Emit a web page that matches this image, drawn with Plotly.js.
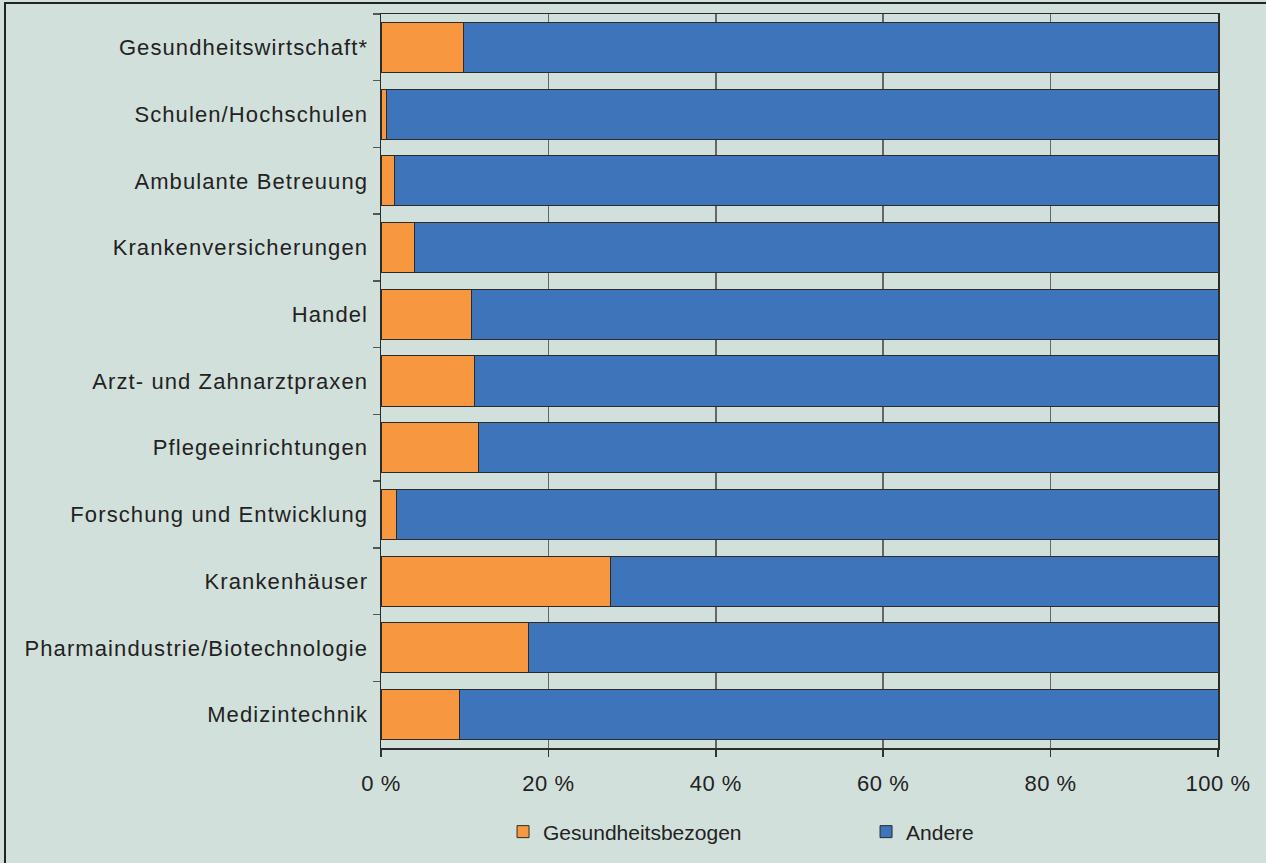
<!DOCTYPE html>
<html>
<head>
<meta charset="utf-8">
<script src="https://cdn.plot.ly/plotly-3.0.1.min.js"></script>
<style>
  html, body { margin: 0; padding: 0; background: #D2E0DB; }
  #wrap { position: relative; width: 1266px; height: 863px; overflow: hidden; }
  #chart { position: absolute; left: 0; top: 0; width: 1266px; height: 863px; }
  #frame { position: absolute; left: 4px; top: 2px; width: 1300px; height: 900px;
           border-left: 2px solid #222; border-top: 2px solid #222; pointer-events: none; }
  .ytick text { letter-spacing: 1.1px; }
  .xtick text { letter-spacing: 0.5px; }
</style>
</head>
<body>
<div id="wrap">
  <div id="chart"></div>
  <div id="frame"></div>
</div>
<script>
const categories = [
  "Gesundheitswirtschaft*",
  "Schulen/Hochschulen",
  "Ambulante Betreuung",
  "Krankenversicherungen",
  "Handel",
  "Arzt- und Zahnarztpraxen",
  "Pflegeeinrichtungen",
  "Forschung und Entwicklung",
  "Krankenhäuser",
  "Pharmaindustrie/Biotechnologie",
  "Medizintechnik"
];
const gesundheitsbezogen = [9.9, 0.7, 1.6, 4.0, 10.8, 11.2, 11.7, 1.8, 27.4, 17.6, 9.4];
const andere = [90.1, 99.3, 98.4, 96.0, 89.2, 88.8, 88.3, 98.2, 72.6, 82.4, 90.6];
const xTickValues = [0, 20, 40, 60, 80, 100];
const xTickLabels = ["0 %", "20 %", "40 %", "60 %", "80 %", "100 %"];

const axisFont = { family: "Liberation Sans, Arial, sans-serif", size: 22, color: "#222" };
const legendFont = { family: "Liberation Sans, Arial, sans-serif", size: 21, color: "#222" };

const traces = [
  {
    type: "bar", orientation: "h", name: "Gesundheitsbezogen",
    y: categories, x: gesundheitsbezogen,
    marker: { color: "#F7973F", line: { color: "#2b2b2b", width: 1 } },
    hoverinfo: "skip"
  },
  {
    type: "bar", orientation: "h", name: "Andere",
    y: categories, x: andere,
    marker: { color: "#3D74BA", line: { color: "#2b2b2b", width: 1 } },
    hoverinfo: "skip"
  }
];

const layout = {
  width: 1266, height: 863,
  margin: { l: 381, r: 48, t: 14, b: 114 },
  paper_bgcolor: "#D2E0DB",
  plot_bgcolor: "#D2E0DB",
  barmode: "stack",
  bargap: 0.25,
  font: axisFont,
  showlegend: true,
  legend: {
    orientation: "h", x: 0.1458, xanchor: "left", y: -0.085, yanchor: "top",
    font: legendFont, bgcolor: "rgba(0,0,0,0)", entrywidth: 318, traceorder: "normal"
  },
  xaxis: {
    range: [0, 100],
    tickvals: xTickValues, ticktext: xTickLabels,
    ticks: "outside", ticklen: 7, tickcolor: "#333", tickwidth: 1.5,
    showgrid: true, gridcolor: "#666", gridwidth: 1.6,
    showline: true, linecolor: "#2b2b2b", linewidth: 1.5, mirror: true,
    zeroline: false, tickfont: axisFont, ticklabelstandoff: 8,
    fixedrange: true
  },
  yaxis: {
    type: "category", autorange: "reversed",
    ticks: "outside", tickson: "boundaries", ticklen: 7, tickcolor: "#555", tickwidth: 1.5,
    showgrid: false,
    showline: true, linecolor: "#2b2b2b", linewidth: 1.5, mirror: true,
    tickfont: axisFont, ticklabelstandoff: 7,
    fixedrange: true
  }
};

Plotly.newPlot("chart", traces, layout, { displayModeBar: false, staticPlot: true });
</script>
</body>
</html>
